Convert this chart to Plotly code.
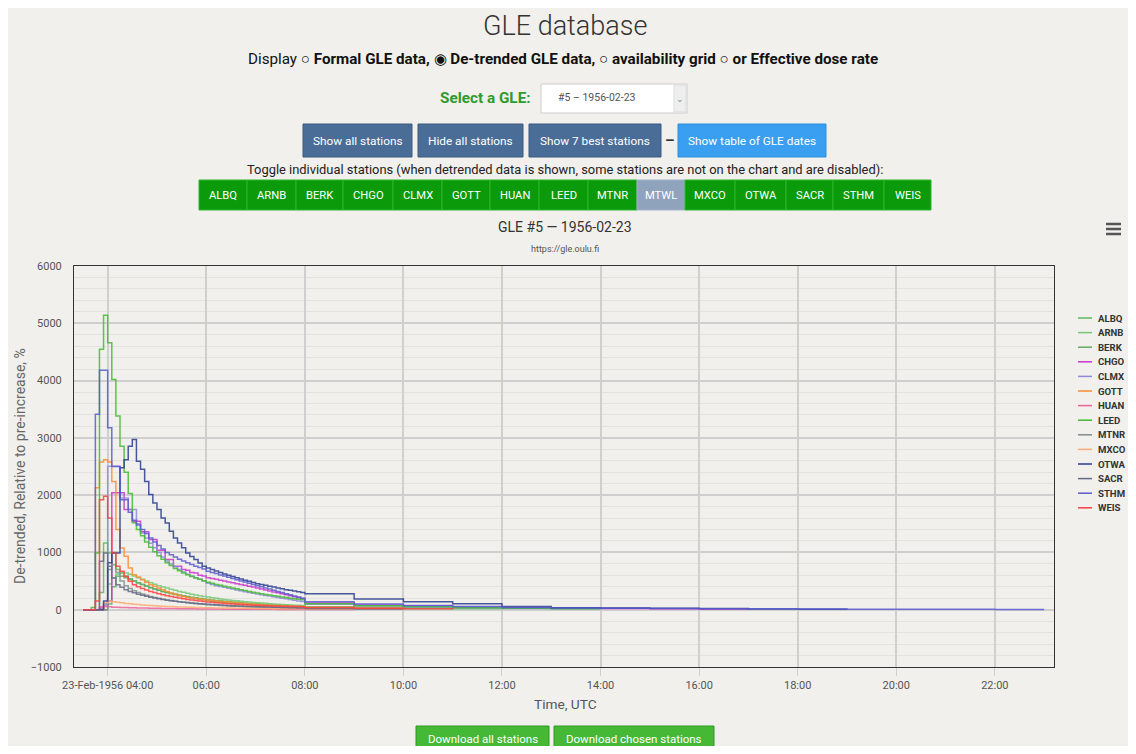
import plotly.graph_objects as go
import pandas as pd

# ---------------- data ----------------
stations = ["ALBQ", "ARNB", "BERK", "CHGO", "CLMX", "GOTT", "HUAN",
            "LEED", "MTNR", "MXCO", "OTWA", "SACR", "STHM", "WEIS"]
colors = ["#5cb85c", "#77c777", "#66aa66", "#cc33cc", "#8c8cdc", "#ff8c33", "#f0609a",
          "#44bb33", "#7f8f8f", "#ffaa70", "#2b3d8f", "#666a88", "#5a5acf", "#ff4040"]
toggle_buttons = ["ALBQ", "ARNB", "BERK", "CHGO", "CLMX", "GOTT", "HUAN", "LEED",
                  "MTNR", "MTWL", "MXCO", "OTWA", "SACR", "STHM", "WEIS"]
disabled_button = "MTWL"

five_min_start = "1956-02-23 03:30"   # 5-minute resolution part
hourly_start = "1956-02-23 08:00"     # hourly resolution part

ALBQ_5m = [0, 0, 0, 0, 300, 1165, 990, 787, 700, 640,
           590, 540, 500, 466, 440, 410, 385, 362, 340, 320,
           302, 285, 270, 255, 242, 230, 218, 207, 197, 188,
           179, 171, 163, 156, 149, 142, 136, 130, 124, 118,
           113, 108, 103, 99, 95, 91, 87, 83, 80, 77,
           74, 71, 68, 65]
ALBQ_1h = [45, 30, 20, 12]

ARNB_5m = [0, 0, 0, 0, 0, 100, 450, 560, 620, 650,
           640, 620, 590, 560, 530, 500, 470, 445, 420, 398,
           377, 357, 338, 320, 303, 287, 272, 258, 245, 232,
           220, 209, 199, 189, 180, 171, 163, 155, 148, 141,
           134, 128, 122, 116, 111, 106, 101, 96, 92, 88,
           84, 80, 76, 72]
ARNB_1h = [50, 35, 22, 15, 10]

BERK_5m = [0, 0, 0, 0, 0, 0, 100, 400, 583, 583,
           560, 530, 500, 470, 440, 412, 386, 362, 340, 320,
           300, 282, 265, 249, 234, 220, 207, 195, 184, 173,
           163, 154, 145, 137, 129, 122, 115, 109, 103, 97,
           92, 87, 82, 78, 74, 70, 66, 63, 60, 57,
           54, 51, 48, 45]
BERK_1h = [30, 20, 12]

CHGO_5m = [0, 0, 0, 0, 30, 60, 150, 2040, 2040, 2040,
           1750, 1750, 1545, 1545, 1360, 1360, 1225, 1225, 1037, 1037,
           875, 875, 760, 760, 700, 690, 650, 640, 600, 590,
           560, 545, 530, 515, 500, 485, 470, 455, 440, 425,
           410, 395, 380, 362, 345, 328, 311, 294, 277, 260,
           243, 226, 210, 195]
CHGO_1h = [117, 82, 70, 47, 35, 25, 20, 15, 12, 8]

CLMX_5m = [0, 0, 0, 0, 0, 100, 2505, 2505, 2505, 1950,
           1950, 1750, 1750, 1500, 1340, 1250, 1160, 1080, 1000, 920,
           850, 800, 750, 700, 660, 620, 590, 560, 530, 500,
           460, 440, 420, 405, 390, 375, 360, 345, 330, 315,
           300, 287, 275, 262, 250, 238, 226, 214, 202, 190,
           178, 166, 154, 142]
CLMX_1h = [95, 65, 45, 30, 22, 15, 10]

GOTT_5m = [0, 0, 0, 2127, 2580, 2620, 2580, 2240, 1400, 1078,
           932, 728, 612, 570, 524, 480, 437, 410, 379, 350,
           320, 291, 270, 250, 230, 215, 204, 195, 185, 175,
           168, 160, 152, 145, 138, 131, 125, 119, 113, 107,
           101, 96, 91, 87, 83, 79, 75, 72, 69, 66,
           63, 61, 59, 57]
GOTT_1h = [40, 25, 15]

HUAN_5m = [0, 0, 0, 0, 50, 55, 50, 45, 42, 40,
           38, 36, 34, 32, 30, 28, 26, 25, 24, 23,
           22, 21, 20, 19, 18, 17, 16, 15, 14, 13,
           12, 12, 11, 11, 10, 10, 9, 9, 8, 8,
           8, 7, 7, 7, 6, 6, 6, 5, 5, 5,
           5, 5, 4, 4]
HUAN_1h = [3, 2]

LEED_5m = [0, 0, 40, 990, 4545, 5140, 4660, 4020, 3380, 2855,
           2400, 2030, 1520, 1400, 1290, 1180, 1090, 1010, 940, 880,
           820, 770, 720, 680, 640, 610, 580, 555, 530, 505,
           480, 460, 440, 425, 410, 395, 380, 365, 350, 335,
           320, 305, 290, 278, 266, 255, 244, 233, 222, 212,
           202, 192, 182, 172]
LEED_1h = [105, 70, 50, 35, 25, 18, 12]

MTNR_5m = [0, 0, 0, 0, 0, 0, 700, 1000, 650, 500,
           420, 370, 330, 300, 275, 252, 232, 214, 198, 184,
           171, 159, 148, 138, 129, 121, 113, 106, 100, 94,
           88, 83, 78, 74, 70, 66, 62, 59, 56, 53,
           50, 48, 46, 44, 42, 40, 38, 36, 34, 32,
           31, 30, 29, 28]
MTNR_1h = [18, 10]

MXCO_5m = [0, 0, 0, 0, 0, 120, 150, 140, 130, 120,
           110, 102, 95, 89, 83, 78, 73, 69, 65, 61,
           58, 55, 52, 49, 46, 44, 42, 40, 38, 36,
           34, 33, 32, 31, 30, 29, 28, 27, 26, 25,
           24, 23, 22, 21, 20, 20, 19, 19, 18, 18,
           17, 17, 16, 16]
MXCO_1h = [12, 8, 5]

OTWA_5m = [0, 0, 0, 0, 0, 150, 820, 990, 990, 2480,
           2620, 2855, 2970, 2590, 2450, 2240, 2010, 1865, 1750, 1600,
           1515, 1370, 1250, 1165, 1080, 990, 930, 875, 815, 760,
           730, 700, 675, 650, 625, 600, 578, 556, 535, 515,
           495, 475, 455, 440, 425, 410, 395, 380, 365, 350,
           338, 326, 314, 302]
OTWA_1h = [280, 187, 140, 105, 58, 35, 30, 25, 20, 12, 8, 5]

SACR_5m = [0, 0, 0, 0, 845, 990, 758, 554, 437, 390,
           350, 320, 295, 272, 252, 234, 218, 203, 190, 178,
           167, 157, 148, 140, 132, 125, 118, 112, 106, 100,
           95, 90, 86, 82, 78, 74, 70, 67, 64, 61,
           58, 55, 52, 50, 48, 46, 44, 42, 40, 38,
           36, 34, 32, 30]
SACR_1h = [20, 12, 8]

STHM_5m = [0, 0, 0, 3410, 4180, 4180, 3176, 2500, 2500, 1920,
           1920, 1700, 1560, 1480, 1400, 1330, 1250, 1180, 1120, 1060,
           1000, 960, 920, 880, 850, 820, 790, 760, 735, 710,
           670, 650, 630, 608, 587, 566, 545, 524, 503, 482,
           461, 440, 420, 400, 380, 360, 340, 320, 300, 280,
           260, 240, 220, 200]
STHM_1h = [140, 100, 75, 55, 40, 32, 26, 22, 18, 15, 12, 10, 8, 6, 5, 5]

WEIS_5m = [0, 0, 0, 150, 1920, 1980, 1600, 990, 760, 670,
           580, 495, 437, 400, 370, 345, 320, 300, 280, 262,
           245, 230, 216, 203, 190, 180, 170, 160, 152, 144,
           136, 129, 122, 116, 110, 105, 100, 95, 91, 87,
           83, 80, 77, 74, 71, 68, 66, 64, 62, 60,
           58, 56, 54, 52]
WEIS_1h = [40, 25, 15, 10]

series_5m = [ALBQ_5m, ARNB_5m, BERK_5m, CHGO_5m, CLMX_5m, GOTT_5m, HUAN_5m,
             LEED_5m, MTNR_5m, MXCO_5m, OTWA_5m, SACR_5m, STHM_5m, WEIS_5m]
series_1h = [ALBQ_1h, ARNB_1h, BERK_1h, CHGO_1h, CLMX_1h, GOTT_1h, HUAN_1h,
             LEED_1h, MTNR_1h, MXCO_1h, OTWA_1h, SACR_1h, STHM_1h, WEIS_1h]

x_tick_vals = ["1956-02-23 04:00", "1956-02-23 06:00", "1956-02-23 08:00", "1956-02-23 10:00",
               "1956-02-23 12:00", "1956-02-23 14:00", "1956-02-23 16:00", "1956-02-23 18:00",
               "1956-02-23 20:00", "1956-02-23 22:00"]
x_tick_text = ["23-Feb-1956 04:00", "06:00", "08:00", "10:00", "12:00", "14:00",
               "16:00", "18:00", "20:00", "22:00"]
x_range = ["1956-02-23 03:19", "1956-02-23 23:12"]
y_tick_vals = [-1000, 0, 1000, 2000, 3000, 4000, 5000, 6000]

# ---------------- geometry (page pixels; the page body has an 8px margin) ----------------
OFF = 8
W, H = 1136 - 2 * OFF, 754 - 2 * OFF
L, R, T, B = 74, 1054, 266, 667          # plot area in page pixels
def px(x):
    return (x - L) / (R - L)
def py(y):
    return (B - y) / (B - T)

FONT = "Roboto, sans-serif"

fig = go.Figure()
for name, col, v5, v1 in zip(stations, colors, series_5m, series_1h):
    t5 = pd.date_range(five_min_start, periods=len(v5), freq="5min")
    t1 = pd.date_range(hourly_start, periods=len(v1), freq="h")
    fig.add_trace(go.Scatter(
        x=list(t5) + list(t1), y=list(v5) + list(v1), name=name,
        mode="lines", line=dict(color=col, width=1.5, shape="hv"),
        opacity=0.85, showlegend=False, hoverinfo="skip"))

shapes = []
annotations = []

def rect(x0, y0, x1, y1, fill, line_color=None, lw=0):
    shapes.append(dict(type="rect", xref="paper", yref="paper",
                       x0=px(x0), x1=px(x1), y0=py(y1), y1=py(y0),
                       fillcolor=fill, line=dict(color=line_color or fill, width=lw),
                       layer="below"))

def text(x, y, s, size=13, color="#333", anchor="center", angle=0, weight="normal"):
    annotations.append(dict(xref="paper", yref="paper", x=px(x), y=py(y), text=s,
                            showarrow=False, xanchor=anchor, yanchor="middle",
                            textangle=angle,
                            font=dict(size=size, color=color, family=FONT, weight=weight)))

# header
text(565, 26, "GLE database", size=27, color="#333", weight=300)
text(563, 59, "Display ○ <b>Formal GLE data,</b> ◉ <b>De-trended GLE data,</b> ○ "
              "<b>availability grid</b> ○ <b>or Effective dose rate</b>", size=15.2, color="#111")
text(533, 98, "<b>Select a GLE:</b>", size=15.3, color="#2f9a2f", anchor="right")
rect(541, 84, 687, 113, "#ffffff", "#cccccc", 1)
rect(674, 85, 686, 112, "#eeeeee", "#dddddd", 1)
text(556, 98, "#5 – 1956-02-23", size=10.5, color="#555", anchor="left")
text(680, 99, "⌄", size=9, color="#888")

# action buttons
for (x0, x1, lab, fill) in [(303, 412, "Show all stations", "#4a6d98"),
                            (418, 523, "Hide all stations", "#4a6d98"),
                            (529, 661, "Show 7 best stations", "#4a6d98"),
                            (678, 826, "Show table of GLE dates", "#3a9ff0")]:
    rect(x0, 124, x1, 157, fill, "#3b5a80" if fill == "#4a6d98" else "#2f8fdc", 1)
    text((x0 + x1) / 2, 141, lab, size=11.8, color="#ffffff")
text(669, 140, "<b>–</b>", size=15, color="#333")

text(565, 169, "Toggle individual stations (when detrended data is shown, some stations "
               "are not on the chart and are disabled):", size=12.9, color="#222")

# station toggle buttons
edges = [199, 247, 296, 343, 393, 442, 490, 539, 588, 637, 685, 735, 786, 833, 884, 931]
for i, lab in enumerate(toggle_buttons):
    fill = "#8fa3bd" if lab == disabled_button else "#0a9a0a"
    rect(edges[i], 180, edges[i + 1], 210, fill, "#2db52d" if fill == "#0a9a0a" else "#a3b4cb", 1)
    text((edges[i] + edges[i + 1]) / 2, 195, lab, size=11.2, color="#ffffff")

# chart titles
text(565, 227, "GLE #5 — 1956-02-23", size=14, color="#333")
text(565, 249, "https://gle.oulu.fi", size=9, color="#555")

# context menu icon
for yy in (224, 229, 234):
    shapes.append(dict(type="line", xref="paper", yref="paper", x0=px(1106), x1=px(1121),
                       y0=py(yy), y1=py(yy), line=dict(color="#555", width=2.5)))

# axis titles
text(20, 466, "De-trended, Relative to pre-increase, %", size=14, color="#666", angle=-90)
text(565, 704, "Time, UTC", size=13.7, color="#555")

# legend (compact, Highcharts-style)
for i, (name, col) in enumerate(zip(stations, colors)):
    yy = 318 + i * 14.6
    shapes.append(dict(type="line", xref="paper", yref="paper", x0=px(1078), x1=px(1092),
                       y0=py(yy), y1=py(yy), line=dict(color=col, width=1.5)))
    text(1096, yy, "<b>" + name + "</b>", size=9.6, color="#333", anchor="left")

# download buttons (cut by the bottom of the window, as in the page)
for (x0, x1, lab) in [(416, 549, "Download all stations"), (554, 714, "Download chosen stations")]:
    rect(x0, 726, x1, 760, "#45b836", "#2f9a22", 1)
    text((x0 + x1) / 2, 738.5, lab, size=11.5, color="#ffffff")

fig.update_layout(
    width=W, height=H,
    margin=dict(l=L - OFF, r=W - (R - OFF), t=T - OFF, b=H - (B - OFF), pad=0),
    paper_bgcolor="#f1f0ec", plot_bgcolor="rgba(0,0,0,0)",
    font=dict(family=FONT, size=11, color="#555"),
    showlegend=False,
    shapes=shapes, annotations=annotations,
    xaxis=dict(type="date", range=x_range, tickvals=x_tick_vals, ticktext=x_tick_text,
               showgrid=True, gridcolor="#cfcfcf", gridwidth=1.5,
               showline=True, linecolor="#333", linewidth=1, mirror=True,
               ticks="outside", ticklen=8, tickcolor="#cfcfcf",
               tickfont=dict(size=11, color="#555"), zeroline=False),
    yaxis=dict(range=[-1000, 6000], tickvals=y_tick_vals,
               showgrid=True, gridcolor="#cfcfcf", gridwidth=1.5,
               minor=dict(dtick=200, showgrid=True, gridcolor="#e2e2e0", gridwidth=1),
               showline=True, linecolor="#333", linewidth=1, mirror=True,
               ticks="", tickfont=dict(size=11, color="#555"), zeroline=False,
               ticklabelstandoff=9),
)

fig.write_html("out.html")
